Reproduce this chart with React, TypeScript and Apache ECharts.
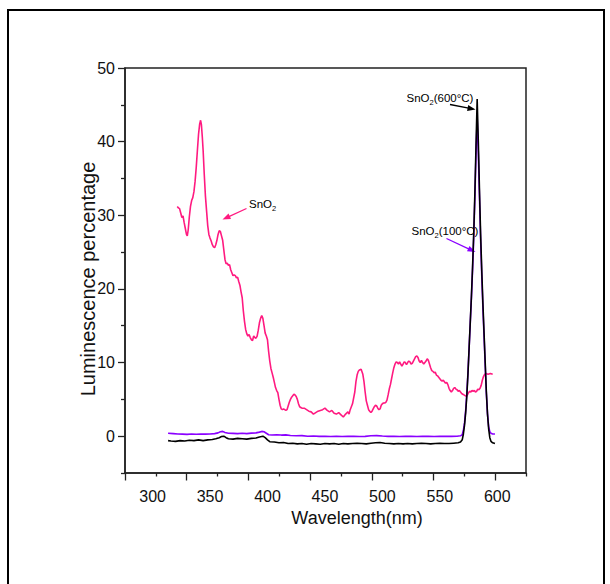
import React, { useEffect, useRef } from "react";
import * as echarts from "echarts";

// ---- data: [wavelength (nm), luminescence percentage] ----
const snO2Pink: [number, number][] = [
  [321.5, 31.2], [322.5, 31.0], [323.5, 30.9], [324.5, 30.3], [325.5, 29.7], [326.5, 29.9], [327.5, 29.0],
  [328.5, 28.2], [329.5, 27.4], [330.2, 27.2], [331, 28.0], [332, 29.8], [333, 31.2], [334, 32.0], [335, 32.4],
  [336, 33.2], [337, 34.6], [338, 36.5], [339, 38.8], [340, 41.0], [341, 42.4], [341.8, 42.9], [342.5, 42.3],
  [343.3, 40.6], [344, 38.8], [345, 35.5], [346, 32.6], [347, 30.6], [348, 28.6], [349, 27.4], [350, 26.9],
  [351, 26.5], [352, 26.0], [353, 25.7], [354, 25.6], [355, 26.0], [356, 26.6], [357, 27.4], [358, 27.9],
  [359, 27.8], [360, 27.2], [361, 26.6], [362, 25.3], [363, 24.0], [364, 23.4], [365, 23.5], [366, 23.2],
  [367, 23.3], [368, 22.6], [369, 22.2], [370, 21.8], [371, 21.9], [372, 21.8], [373, 21.5], [374, 21.6],
  [375, 21.0], [376, 20.5], [377, 19.6], [378, 18.8], [379, 17.0], [380, 15.6], [381, 14.5], [382, 13.9],
  [383, 13.6], [384, 13.8], [385, 13.4], [386, 13.1], [387, 13.0], [388, 13.6], [389, 13.4], [390, 13.3],
  [391, 13.6], [392, 14.4], [393, 15.4], [394, 16.0], [395, 16.4], [396, 16.0], [397, 15.0], [398, 14.0],
  [399, 13.6], [400, 13.1], [401, 11.5], [402, 10.2], [403, 9.2], [404, 8.6], [405, 8.0], [406, 7.3],
  [407, 6.6], [408, 6.2], [409, 5.9], [410, 5.0], [411, 4.2], [412, 3.7], [413, 3.6], [414, 3.7], [415, 3.6],
  [416, 3.5], [417, 3.6], [418, 4.1], [419, 4.6], [420, 5.0], [421, 5.3], [422, 5.5], [423, 5.7], [424, 5.6],
  [425, 5.4], [426, 5.0], [427, 4.4], [428, 4.0], [429, 3.9], [430, 3.8], [432, 3.8], [434, 3.6], [436, 3.4],
  [438, 3.3], [440, 3.0], [442, 3.2], [444, 3.4], [446, 3.5], [448, 3.6], [450, 3.8], [452, 3.5], [454, 3.3],
  [456, 3.5], [458, 3.1], [460, 3.0], [462, 3.2], [464, 2.9], [466, 2.6], [468, 3.0], [470, 3.3], [471, 3.0],
  [472, 3.6], [474, 4.4], [476, 6.0], [477, 7.4], [478, 8.3], [479, 8.8], [480, 9.0], [481.5, 9.1], [483, 8.4],
  [484, 7.4], [485, 6.0], [486, 4.8], [487, 4.2], [488, 3.6], [489, 3.4], [490, 3.2], [491, 3.4], [492, 3.7],
  [493, 4.0], [494, 4.2], [495, 4.1], [496, 3.8], [497, 3.6], [498, 3.7], [499, 4.2], [500, 4.4], [501, 4.5],
  [502, 4.5], [503, 4.6], [504, 4.9], [505, 5.6], [506, 6.4], [507, 7.0], [508, 7.8], [509, 8.6], [510, 9.3],
  [511, 9.8], [512, 10.1], [513, 10.0], [514, 9.8], [515, 10.1], [516, 9.8], [517, 9.5], [518, 9.8], [519, 10.1],
  [520, 10.0], [521, 9.7], [522, 10.0], [523, 10.2], [524, 10.1], [525, 9.8], [526, 9.9], [527, 10.2],
  [528, 10.5], [529, 10.8], [530, 10.9], [531, 10.7], [532, 10.2], [533, 10.0], [534, 10.3], [535, 10.0],
  [536, 9.8], [537, 10.0], [538, 10.2], [539, 10.5], [540, 10.3], [541, 9.8], [542, 9.3], [543, 8.9], [544, 8.8],
  [545, 8.6], [546, 8.7], [547, 8.3], [548, 8.2], [549, 8.0], [550, 7.8], [551, 7.6], [552, 7.5], [553, 7.6],
  [554, 7.4], [555, 7.2], [556, 7.3], [557, 7.0], [558, 6.5], [559, 6.2], [560, 6.0], [561, 6.2], [562, 6.5],
  [563, 6.6], [564, 6.4], [565, 6.3], [566, 6.1], [567, 6.2], [568, 6.0], [569, 5.8], [570, 5.7], [571, 5.6],
  [572, 5.5], [573, 5.4], [574, 5.6], [575, 5.9], [576, 6.1], [577, 6.0], [578, 6.2], [579, 6.1], [580, 6.2],
  [581, 6.0], [582, 6.1], [583, 6.4], [584, 6.3], [585, 6.5], [586, 6.9], [587, 7.6], [588, 8.1], [589, 8.4],
  [590, 8.5], [592, 8.4], [594, 8.5], [596, 8.4],
];

const snO2At100: [number, number][] = [
  [313.5, 0.4], [318, 0.35], [322, 0.3], [326, 0.28], [330, 0.25], [334, 0.3], [338, 0.26], [342, 0.3],
  [346, 0.28], [350, 0.3], [354, 0.35], [357, 0.45], [359, 0.6], [361, 0.65], [363, 0.5], [366, 0.4],
  [370, 0.38], [374, 0.35], [378, 0.4], [382, 0.35], [386, 0.42], [390, 0.45], [393, 0.55], [395, 0.65],
  [397, 0.6], [399, 0.4], [401, 0.2], [404, 0.15], [408, 0.2], [412, 0.15], [416, 0.18], [420, 0.1],
  [425, 0.05], [430, 0.08], [435, 0.0], [440, 0.02], [445, -0.02], [450, 0.0], [455, -0.05], [460, 0.0],
  [465, -0.05], [470, -0.02], [475, 0.0], [480, -0.05], [485, -0.02], [490, 0.05], [495, 0.08], [500, 0.02],
  [505, -0.02], [510, 0.0], [515, -0.05], [520, -0.02], [525, 0.0], [530, -0.05], [535, -0.02], [540, 0.0],
  [545, -0.05], [550, -0.02], [555, 0.0], [560, -0.03], [565, 0.0], [568, 0.05], [569.5, 0.2], [570.5, 0.8],
  [571.5, 1.8], [572.5, 3.5], [573.5, 5.8], [574.5, 8.7], [575.5, 12.0], [576.5, 15.4], [577.5, 18.8],
  [578.5, 22.6], [579.5, 27.0], [580.5, 32.3], [581.5, 38.5], [582.5, 43.3], [583.5, 38.5], [584.5, 32.5],
  [585.5, 26.7], [586.5, 21.8], [587.5, 17.4], [588.5, 13.5], [589.5, 9.6], [590.5, 5.8], [591.5, 3.0],
  [592.5, 1.3], [593.5, 0.6], [594.5, 0.4], [596, 0.3], [598, 0.3],
];

const snO2At600: [number, number][] = [
  [313.5, -0.6], [316, -0.65], [320, -0.7], [324, -0.6], [328, -0.65], [332, -0.55], [336, -0.6], [340, -0.5],
  [344, -0.6], [348, -0.5], [352, -0.45], [355, -0.35], [358, -0.2], [360, -0.05], [362, 0.0], [364, -0.2],
  [366, -0.35], [370, -0.4], [374, -0.3], [378, -0.35], [382, -0.4], [386, -0.3], [390, -0.25], [393, -0.1],
  [396, 0.0], [398, -0.2], [400, -0.5], [402, -0.75], [406, -0.8], [410, -0.9], [414, -0.85], [418, -1.0],
  [422, -0.95], [426, -1.05], [430, -1.0], [434, -1.1], [438, -1.0], [442, -1.05], [446, -1.1], [450, -1.0],
  [454, -1.05], [458, -1.0], [462, -1.1], [466, -1.0], [470, -1.05], [474, -1.0], [478, -0.95], [482, -1.0],
  [486, -1.05], [490, -0.95], [494, -0.9], [498, -0.85], [502, -0.95], [506, -1.0], [510, -1.05], [514, -1.0],
  [518, -1.05], [522, -1.0], [526, -1.05], [530, -1.0], [534, -0.95], [538, -1.0], [542, -1.05], [546, -1.0],
  [550, -0.95], [554, -1.0], [558, -1.0], [562, -0.95], [566, -0.9], [568, -0.8], [569.5, -0.5], [570.5, 0.3],
  [571.5, 1.5], [572.5, 3.2], [573.5, 5.5], [574.5, 8.5], [575.5, 12.0], [576.5, 15.5], [577.5, 19.0],
  [578.5, 23.0], [579.5, 27.5], [580.5, 33.0], [581.5, 39.5], [582.5, 45.8], [583.5, 40.0], [584.5, 33.5],
  [585.5, 27.5], [586.5, 22.5], [587.5, 18.0], [588.5, 14.0], [589.5, 10.0], [590.5, 6.0], [591.5, 3.0],
  [592.5, 1.0], [593.5, -0.2], [594.5, -0.7], [596, -0.9], [598, -1.0],
];

const xTickLabels = [300, 350, 400, 450, 500, 550, 600];
const yTickLabels = [0, 10, 20, 30, 40, 50];
const yMinorTicks = [-5, 5, 15, 25, 35, 45];
const xMajorTickSlots = [0, 2, 4, 6, 8, 10, 12];
const xMinorTickSlots = [1, 3, 5, 7, 9, 11, 13];

const NARROW = "'Liberation Sans Narrow', 'Liberation Sans', Arial, sans-serif";
const SANS = "'Liberation Sans', Arial, sans-serif";
const PINK = "#ff1a80";
const PURPLE = "#8a00ff";
const BLACK = "#000000";

function arrow(x1: number, y1: number, x2: number, y2: number, color: string, hl = 8, hw = 3) {
  const dx = x2 - x1, dy = y2 - y1;
  const L = Math.hypot(dx, dy);
  const ux = dx / L, uy = dy / L;
  const bx = x2 - ux * hl, by = y2 - uy * hl;
  return [
    { type: "line", shape: { x1, y1, x2: bx + ux, y2: by + uy }, style: { stroke: color, lineWidth: 1.3 } },
    {
      type: "polygon",
      shape: { points: [[x2, y2], [bx - uy * hw, by + ux * hw], [bx + uy * hw, by - ux * hw]] },
      style: { fill: color },
    },
  ];
}

const rich = {
  a: { fontSize: 11.5, fontFamily: NARROW, color: "#111" },
  s: { fontSize: 7.5, fontFamily: NARROW, color: "#111", padding: [9, 0, 0, 0] },
};

export default function App() {
  const ref = useRef<HTMLDivElement>(null);
  useEffect(() => {
    document.body.style.margin = "0";
    const chart = echarts.init(ref.current!, null, { renderer: "svg", width: 610, height: 584 });
    const axisLine = { show: true, onZero: false, lineStyle: { color: "#222", width: 1.5 } };
    const hiddenLine = { show: false, onZero: false };
    chart.setOption({
      animation: false,
      backgroundColor: "#fff",
      grid: { left: 125, right: 84, top: 68, bottom: 111, show: true, borderColor: "#222", borderWidth: 1.5 },
      xAxis: [
        {
          type: "value", min: 276, max: 625, position: "bottom",
          axisLine, axisTick: { show: false }, splitLine: { show: false },
          axisLabel: { customValues: xTickLabels, margin: 15, fontSize: 16, fontFamily: NARROW, color: "#111" },
          name: "Wavelength(nm)", nameLocation: "middle", nameGap: 33,
          nameTextStyle: { fontSize: 18, fontFamily: NARROW, color: "#111", padding: [0, 0, 0, 63] },
        },
        {
          type: "value", min: 0, max: 13, position: "bottom",
          axisLine: hiddenLine, axisLabel: { show: false }, splitLine: { show: false },
          axisTick: { show: true, customValues: xMajorTickSlots, length: 7.5, lineStyle: { color: "#222", width: 1.3 } },
        },
        {
          type: "value", min: 0, max: 13, position: "bottom",
          axisLine: hiddenLine, axisLabel: { show: false }, splitLine: { show: false },
          axisTick: { show: true, customValues: xMinorTickSlots, length: 3.5, lineStyle: { color: "#222", width: 1.3 } },
        },
      ],
      yAxis: [
        {
          type: "value", min: -5, max: 50, position: "left",
          axisLine, splitLine: { show: false },
          axisTick: { show: true, customValues: yTickLabels, length: 7, lineStyle: { color: "#222", width: 1.3 } },
          axisLabel: { customValues: yTickLabels, margin: 10, fontSize: 16, fontFamily: NARROW, color: "#111" },
          name: "Luminescence percentage", nameLocation: "middle", nameGap: 27, nameMoveOverlap: false,
          nameTextStyle: { fontSize: 20, fontFamily: SANS, color: "#111", padding: [0, 17, 0, 0] },
        },
        {
          type: "value", min: -5, max: 50, position: "left",
          axisLine: hiddenLine, axisLabel: { show: false }, splitLine: { show: false },
          axisTick: { show: true, customValues: yMinorTicks, length: 4, lineStyle: { color: "#222", width: 1.3 } },
        },
      ],
      series: [
        {
          name: "SnO2", type: "line", data: snO2Pink, showSymbol: false, symbol: "none",
          lineStyle: { color: PINK, width: 1.6 }, xAxisIndex: 0, yAxisIndex: 0, z: 2,
        },
        {
          name: "SnO2(100°C)", type: "line", data: snO2At100, showSymbol: false, symbol: "none",
          lineStyle: { color: PURPLE, width: 1.6 }, xAxisIndex: 0, yAxisIndex: 0, z: 3,
        },
        {
          name: "SnO2(600°C)", type: "line", data: snO2At600, showSymbol: false, symbol: "none",
          lineStyle: { color: BLACK, width: 1.6 }, xAxisIndex: 0, yAxisIndex: 0, z: 4,
        },
      ],
      graphic: [
        { type: "rect", shape: { x: 8, y: 10, width: 596, height: 620 }, style: { fill: "none", stroke: "#000", lineWidth: 2 }, silent: true },
        ...arrow(246.5, 208.5, 222.5, 219.5, PINK),
        ...arrow(450, 104.5, 475.5, 109.5, BLACK),
        ...arrow(446.5, 238.5, 475.5, 252, PURPLE),
        { type: "text", x: 249, y: 204, style: { text: "{a|SnO}{s|2}", rich, verticalAlign: "middle", align: "left" } },
        { type: "text", x: 406.5, y: 98, style: { text: "{a|SnO}{s|2}{a|(600°C)}", rich, verticalAlign: "middle", align: "left" } },
        { type: "text", x: 411.5, y: 230.5, style: { text: "{a|SnO}{s|2}{a|(100°C)}", rich, verticalAlign: "middle", align: "left" } },
      ],
    });
    return () => chart.dispose();
  }, []);
  return <div ref={ref} style={{ width: 610, height: 584 }} />;
}
